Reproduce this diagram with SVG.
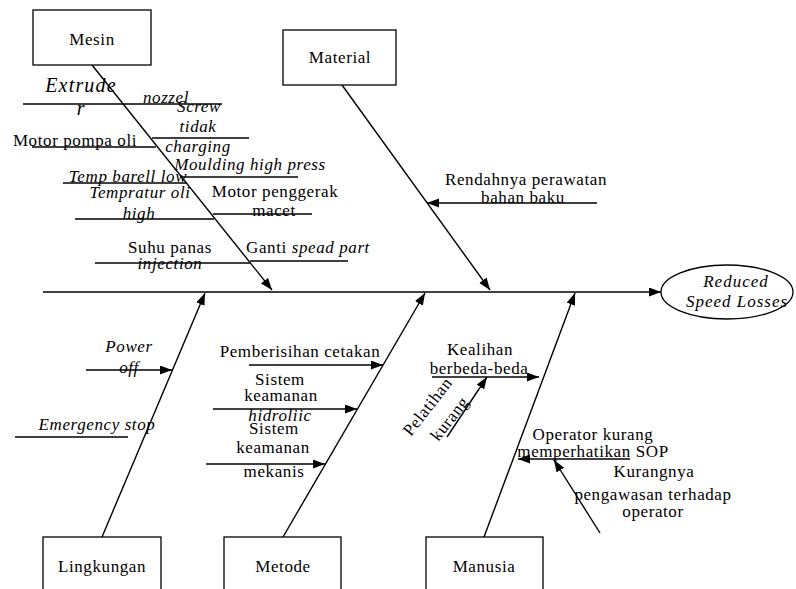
<svg xmlns="http://www.w3.org/2000/svg" width="796" height="589" viewBox="0 0 796 589">
<style>
text{font-family:"Liberation Serif","Times New Roman",serif;font-size:17px;letter-spacing:0.6px;fill:#000;text-anchor:middle}
.i{font-style:italic}
.box{fill:#fff;stroke:#000;stroke-width:1.3}
.ln{stroke:#000;stroke-width:1.4;fill:none}
.ar{marker-end:url(#ah)}
</style>
<defs>
<marker id="ah" markerUnits="userSpaceOnUse" markerWidth="13" markerHeight="10" refX="12" refY="4.5" orient="auto">
<path d="M0,0 L12,4.5 L0,9 z" fill="#000"/>
</marker>
</defs>
<rect width="796" height="589" fill="#fff"/>
<g id="connectors">
<line class="ln ar" x1="43" y1="292" x2="661" y2="292"/>
<line class="ln ar" x1="92" y1="65" x2="272" y2="290"/>
<line class="ln ar" x1="342" y1="85" x2="490" y2="290"/>
<line class="ln ar" x1="102" y1="537" x2="205" y2="293"/>
<line class="ln ar" x1="283" y1="537" x2="425" y2="293"/>
<line class="ln ar" x1="484" y1="537" x2="575" y2="293"/>
<line class="ln" x1="23" y1="104" x2="222" y2="104"/>
<line class="ln" x1="152" y1="138" x2="249" y2="138"/>
<line class="ln" x1="32" y1="147" x2="156" y2="147"/>
<line class="ln" x1="180" y1="177" x2="298" y2="177"/>
<line class="ln" x1="63" y1="183" x2="187" y2="183"/>
<line class="ln" x1="213" y1="214" x2="312" y2="214"/>
<line class="ln" x1="75" y1="219" x2="214" y2="219"/>
<line class="ln" x1="95" y1="263" x2="250" y2="263"/>
<line class="ln" x1="250" y1="261" x2="348" y2="261"/>
<line class="ln ar" x1="597" y1="203" x2="427" y2="203"/>
<line class="ln ar" x1="86" y1="370" x2="172" y2="370"/>
<line class="ln" x1="15" y1="437" x2="128" y2="437"/>
<line class="ln ar" x1="249" y1="365" x2="383" y2="365"/>
<line class="ln ar" x1="213" y1="409" x2="357" y2="409"/>
<line class="ln ar" x1="206" y1="464" x2="325" y2="464"/>
<line class="ln ar" x1="432" y1="377" x2="539" y2="377"/>
<line class="ln ar" x1="447" y1="437" x2="487" y2="377"/>
<line class="ln ar" x1="630" y1="459" x2="518" y2="459"/>
<line class="ln ar" x1="600" y1="533" x2="554" y2="460"/>
</g>
<g id="mesin"><rect class="box" x="33" y="10" width="118" height="55"/><text x="92" y="45">Mesin</text></g>
<g id="material"><rect class="box" x="283" y="30" width="113" height="55"/><text x="340" y="63">Material</text></g>
<g id="lingkungan"><rect class="box" x="43" y="537" width="118" height="60"/><text x="102" y="572">Lingkungan</text></g>
<g id="metode"><rect class="box" x="224" y="537" width="117" height="60"/><text x="283" y="572">Metode</text></g>
<g id="manusia"><rect class="box" x="426" y="537" width="117" height="60"/><text x="484" y="572">Manusia</text></g>
<g id="effect"><ellipse cx="727" cy="292" rx="66" ry="27" fill="#fff" stroke="#000" stroke-width="1.3"/>
<text class="i" x="736" y="287" style="letter-spacing:1px">Reduced</text><text class="i" x="737" y="307" style="letter-spacing:1px">Speed Losses</text></g>
<g id="causes">
<text class="i" x="81" y="92" style="font-size:20px;letter-spacing:1.2px">Extrude</text>
<text class="i" x="81" y="115" style="font-size:20px">r</text>
<text class="i" x="166" y="103">nozzel</text>
<text class="i" x="199" y="112">Screw</text>
<text class="i" x="198" y="132">tidak</text>
<text class="i" x="198" y="152">charging</text>
<text x="75" y="146">Motor pompa oli</text>
<text class="i" x="250" y="170">Moulding high press</text>
<text class="i" x="128" y="182">Temp barell low</text>
<text class="i" x="140" y="198">Tempratur oli</text>
<text class="i" x="139" y="219">high</text>
<text x="275" y="197">Motor penggerak</text>
<text x="274" y="216">macet</text>
<text x="170" y="253">Suhu panas</text>
<text class="i" x="170" y="269">injection</text>
<text x="308" y="253">Ganti <tspan class="i">spead part</tspan></text>
<text x="526" y="185">Rendahnya perawatan</text>
<text x="523" y="203">bahan baku</text>
<text class="i" x="129" y="352">Power</text>
<text class="i" x="129" y="373">off</text>
<text class="i" x="97" y="430">Emergency stop</text>
<text x="300" y="357">Pemberisihan cetakan</text>
<text x="280" y="385">Sistem</text>
<text x="281" y="401">keamanan</text>
<text class="i" x="280" y="421">hidroliic</text>
<text x="274" y="434">Sistem</text>
<text x="273" y="453">keamanan</text>
<text x="274" y="477">mekanis</text>
<text x="480" y="355">Kealihan</text>
<text x="479" y="374">berbeda-beda</text>
<text transform="translate(432,410) rotate(-52)">Pelatihan</text>
<text transform="translate(454,422) rotate(-52)">kurang</text>
<text x="593" y="440">Operator kurang</text>
<text x="593" y="457">memperhatikan SOP</text>
<text x="654" y="477">Kurangnya</text>
<text x="653" y="500">pengawasan terhadap</text>
<text x="653" y="517">operator</text>
</g>
</svg>
